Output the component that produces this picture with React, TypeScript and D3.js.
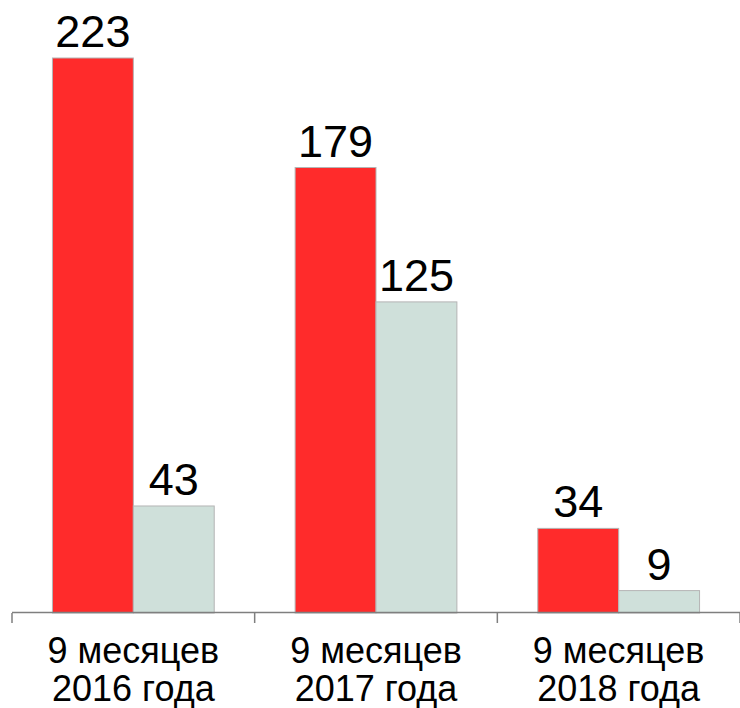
import * as d3 from "d3";
import { useEffect, useRef } from "react";

const categories = ["9 месяцев|2016 года", "9 месяцев|2017 года", "9 месяцев|2018 года"];
const seriesKeys = ["a", "b"];
const seriesA = [223, 179, 34];
const seriesB = [43, 125, 9];
const colors = ["#ff2b2b", "#cfe0da"];

export default function App() {
  const svgRef = useRef<SVGSVGElement>(null);

  useEffect(() => {
    if (!svgRef.current) return;
    const svg = d3.select(svgRef.current);
    svg.selectAll("*").remove();

    const baseY = 613;
    const x0 = d3.scaleBand().domain(categories).range([12, 740]).padding(0);
    const x1 = d3
      .scaleBand()
      .domain(seriesKeys)
      .range([0, x0.bandwidth()])
      .paddingInner(0)
      .paddingOuter(0.5);
    const y = d3.scaleLinear().domain([0, 223]).range([baseY, 58]);

    const rows = categories.map((c, i) => ({
      cat: c,
      vals: [
        { key: "a", v: seriesA[i] },
        { key: "b", v: seriesB[i] },
      ],
    }));

    const groups = svg
      .selectAll("g.grp")
      .data(rows)
      .enter()
      .append("g")
      .attr("class", "grp")
      .attr("transform", (d) => `translate(${x0(d.cat)},0)`);

    groups
      .selectAll("rect")
      .data((d) => d.vals)
      .enter()
      .append("rect")
      .attr("x", (d) => x1(d.key)!)
      .attr("y", (d) => y(d.v))
      .attr("width", x1.bandwidth())
      .attr("height", (d) => baseY - y(d.v))
      .attr("fill", (d, i) => colors[i])
      .attr("stroke", "#b4b4b4")
      .attr("stroke-width", 1);

    groups
      .selectAll("text.val")
      .data((d) => d.vals)
      .enter()
      .append("text")
      .attr("class", "val")
      .attr("x", (d) => x1(d.key)! + x1.bandwidth() / 2)
      .attr("y", (d) => y(d.v) - 11)
      .attr("text-anchor", "middle")
      .style("font-family", "'Liberation Sans', Arial, sans-serif")
      .style("font-size", "45px")
      .attr("fill", "#000")
      .text((d) => d.v);

    // axis line + ticks
    svg
      .append("line")
      .attr("x1", 12)
      .attr("x2", 740)
      .attr("y1", baseY - 0.5)
      .attr("y2", baseY - 0.5)
      .attr("stroke", "#7f7f7f")
      .attr("stroke-width", 1.5);

    const tickXs = categories.map((c) => x0(c)!).concat([740]);
    svg
      .selectAll("line.tick")
      .data(tickXs)
      .enter()
      .append("line")
      .attr("class", "tick")
      .attr("x1", (d) => d)
      .attr("x2", (d) => d)
      .attr("y1", baseY)
      .attr("y2", baseY + 10)
      .attr("stroke", "#7f7f7f")
      .attr("stroke-width", 1.5);

    const labels = svg
      .selectAll("text.cat")
      .data(categories)
      .enter()
      .append("text")
      .attr("class", "cat")
      .attr("text-anchor", "middle")
      .style("font-family", "'Liberation Sans', Arial, sans-serif")
      .style("font-size", "36px")
      .attr("fill", "#000");

    labels
      .selectAll("tspan")
      .data((d) => d.split("|").map((t) => ({ t, x: x0(d)! + x0.bandwidth() / 2 })))
      .enter()
      .append("tspan")
      .attr("x", (d) => d.x)
      .attr("y", (d, i) => 663 + i * 38)
      .text((d) => d.t);
  }, []);

  return (
    <svg
      ref={svgRef}
      width={740}
      height={708}
      style={{ position: "absolute", left: 0, top: 0, background: "#fff" }}
    />
  );
}
